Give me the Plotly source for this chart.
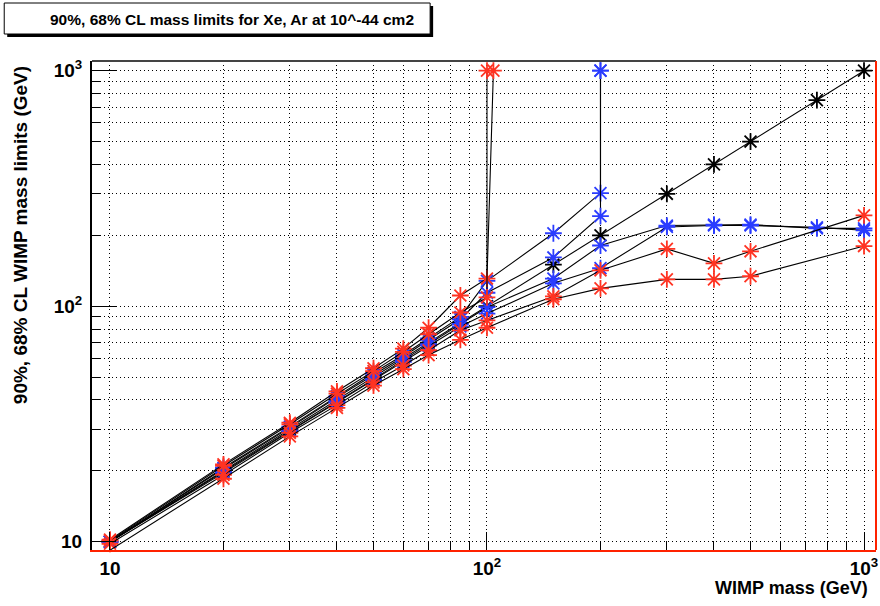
import plotly.graph_objects as go
import math

# WIMP masses (GeV) used for the scan
mass = [10, 20, 30, 40, 50, 60, 70, 85, 100, 150, 200, 300, 400, 500, 750, 1000]

# Xe limits (blue markers)
xe_up90_m = [10, 20, 30, 40, 50, 60, 70, 85, 100, 150, 200, 200]
xe_up90 = [10, 20.6, 30.8, 41.5, 52, 62, 73, 90, 128, 204, 302, 1000]
xe_up68_m = [10, 20, 30, 40, 50, 60, 70, 85, 100, 150, 200, 200]
xe_up68 = [10, 20.4, 30.5, 41, 51, 61, 72, 88, 114, 161, 241, 1000]
xe_lo68_m = mass
xe_lo68 = [10, 19.8, 29.7, 39.5, 49, 59, 69, 84, 99, 131, 181, 220, 222, 222, 214, 214]
xe_lo90_m = mass
xe_lo90 = [10, 19.6, 29.4, 39, 48.5, 58, 68, 82, 93, 125, 145, 217, 220, 220, 216, 210]

# Ar limits (red markers)
ar_up90_m = [10, 20, 30, 40, 50, 60, 70, 85, 100, 104]
ar_up90 = [10.2, 21.3, 32, 43.5, 54.5, 66, 81, 111, 131, 1000]
ar_up68_m = [10, 20, 30, 40, 50, 60, 70, 85, 100, 100]
ar_up68 = [10.1, 21, 31.5, 42.5, 53, 64, 76, 94, 109, 1000]
ar_lo68_m = [10, 20, 30, 40, 50, 60, 70, 85, 100, 150, 200, 300, 400, 500, 1000]
ar_lo68 = [9.8, 19.2, 29, 38, 47.5, 56, 65, 79, 87, 110, 142, 175, 152, 171, 243]
ar_lo90_m = [10, 20, 30, 40, 50, 60, 70, 85, 100, 150, 200, 300, 400, 500, 1000]
ar_lo90 = [9.2, 18.5, 28, 37, 46, 54, 62, 72, 81, 107, 119, 130, 130, 134, 180]

W, H = 880, 606
L, R, T, B = 92, 2, 61, 56
pw, ph = W - L - R, H - T - B
FAMILY = "Liberation Sans, Arial, sans-serif"


def px(x):
    return (x - L) / pw


def py(y):
    return (H - B - y) / ph


def series(xs, ys, color):
    return go.Scatter(
        x=xs, y=ys, mode="lines+markers", cliponaxis=False,
        line=dict(color="black", width=1.1),
        marker=dict(symbol="asterisk-open", size=14, color=color,
                    line=dict(color=color, width=1.8)),
        showlegend=False,
    )


fig = go.Figure()
fig.add_trace(series(mass, mass, "black"))
for xs, ys in [(xe_up90_m, xe_up90), (xe_up68_m, xe_up68), (xe_lo68_m, xe_lo68), (xe_lo90_m, xe_lo90)]:
    fig.add_trace(series(xs, ys, "#2a3cff"))
for xs, ys in [(ar_up90_m, ar_up90), (ar_up68_m, ar_up68), (ar_lo68_m, ar_lo68), (ar_lo90_m, ar_lo90)]:
    fig.add_trace(series(xs, ys, "#ff3322"))

minor_vals = [v * d for d in (1, 10, 100) for v in range(2, 10)]
font = dict(family=FAMILY, size=19, color="black", weight="bold")
dots = "1px,3px"

axis_common = dict(
    type="log", ticks="inside", tickwidth=1, tickcolor="black",
    showgrid=True, gridcolor="black", griddash=dots, gridwidth=1.3,
    tickvals=[10, 100, 1000], ticktext=["10", "10<sup>2</sup>", "10<sup>3</sup>"],
    tickfont=font, zeroline=False, ticklabeloverflow="allow",
    minor=dict(tickvals=minor_vals, ticks="inside", ticklen=9, tickcolor="black",
               showgrid=True, gridcolor="black", griddash=dots, gridwidth=1.3),
)

fig.update_xaxes(axis_common, range=[math.log10(8.96), math.log10(1076)], ticklen=18,
                 showline=True, linecolor="#ff2200", linewidth=2)
fig.update_yaxes(axis_common, range=[math.log10(9.22), math.log10(1099)], ticklen=24,
                 showline=True, linecolor="black", linewidth=2, ticklabelstandoff=4)

fig.update_layout(
    width=W, height=H, margin=dict(l=L, r=R, t=T, b=B),
    paper_bgcolor="white", plot_bgcolor="white",
    shapes=[
        dict(type="line", xref="paper", yref="paper", x0=0, x1=1, y0=1, y1=1,
             line=dict(color="#444444", width=2)),
        dict(type="line", xref="paper", yref="paper", x0=1, x1=1, y0=0, y1=1,
             line=dict(color="#ff2200", width=2)),
        # title box with shadow
        dict(type="rect", xref="paper", yref="paper", x0=px(7), x1=px(434), y0=py(37), y1=py(6),
             fillcolor="black", line=dict(width=0)),
        dict(type="rect", xref="paper", yref="paper", x0=px(4), x1=px(431), y0=py(34), y1=py(3),
             fillcolor="white", line=dict(color="black", width=1)),
    ],
    annotations=[
        dict(text="90%, 68% CL mass limits for Xe, Ar at 10^-44 cm2", xref="paper", yref="paper",
             x=px(232), y=py(19), xanchor="center", yanchor="middle", showarrow=False,
             font=dict(family=FAMILY, size=15.5, color="black", weight="bold")),
        dict(text="WIMP mass (GeV)", xref="paper", yref="paper",
             x=px(872), y=py(588), xanchor="right", yanchor="middle", showarrow=False,
             font=dict(family=FAMILY, size=18, color="black", weight="bold")),
        dict(text="90%, 68% CL WIMP mass limits (GeV)", xref="paper", yref="paper",
             x=px(20), y=py(64), xanchor="center", yanchor="top", textangle=-90, showarrow=False,
             font=dict(family=FAMILY, size=19, color="black", weight="bold")),
    ],
)

# the page body has a default 8px margin; drop it so the chart sits at the window's corner
fig.write_html("out.html", config={"displayModeBar": False},
               post_script="document.body.style.margin='0';")
